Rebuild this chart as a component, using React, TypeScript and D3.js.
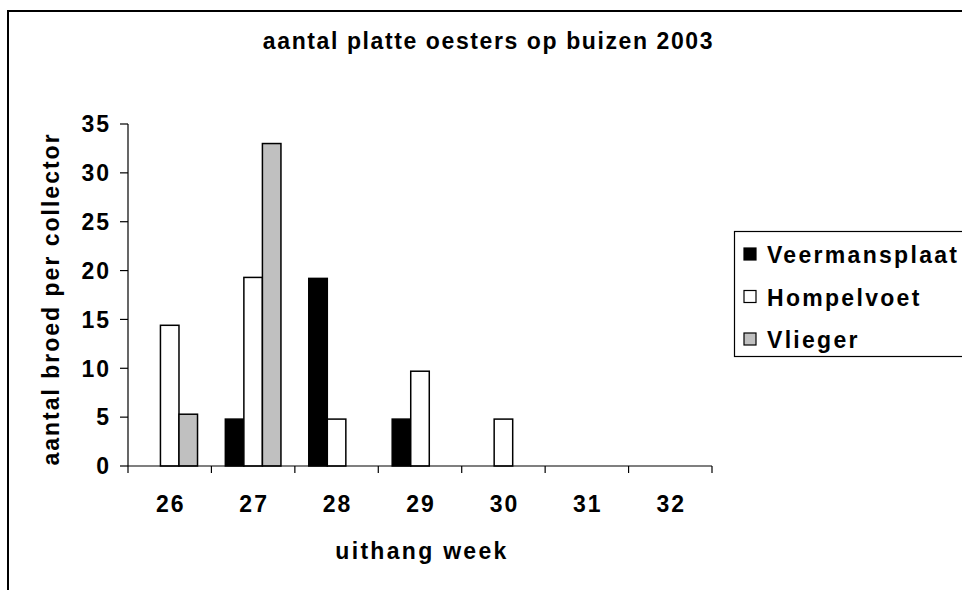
import React from "react";
import * as d3 from "d3";

const weeks = ["26", "27", "28", "29", "30", "31", "32"];
const seriesNames = ["Veermansplaat", "Hompelvoet", "Vlieger"];
const veermansplaat = [0, 4.8, 19.2, 4.8, 0, 0, 0];
const hompelvoet = [14.4, 19.3, 4.8, 9.7, 4.8, 0, 0];
const vlieger = [5.3, 33, 0, 0, 0, 0, 0];
const yTicks = [0, 5, 10, 15, 20, 25, 30, 35];
const seriesValues = [veermansplaat, hompelvoet, vlieger];
const seriesFill = ["#000000", "#ffffff", "#c0c0c0"];

const FONT = "'Liberation Sans', Arial, sans-serif";

export default function App() {
  const W = 962, H = 590;
  const left = 128, right = 712, top = 124, bottom = 466;
  const y = d3.scaleLinear().domain([0, 35]).range([bottom, top]);
  const x0 = d3.scaleBand<string>().domain(weeks).range([left, right]).paddingInner(1 / 3).paddingOuter(1 / 6);
  const x1 = d3.scaleBand<string>().domain(seriesNames).range([0, x0.bandwidth()]).padding(0);
  const step = x0.step();
  const ls = 2;
  const txt = { fontFamily: FONT, fontWeight: 700 as const, fontSize: 23, letterSpacing: ls };

  return (
    <svg width={W} height={H} style={{ position: "absolute", left: 0, top: 0 }}>
      <rect x={0} y={0} width={W} height={H} fill="#fff" />
      <rect x={8} y={11} width={1000} height={700} fill="none" stroke="#000" strokeWidth={2} />
      <text x={487.5 + ls / 2} y={48.5} textAnchor="middle" {...txt} letterSpacing={1.6}>aantal platte oesters op buizen 2003</text>

      {seriesValues.map((vals, si) =>
        vals.map((v, i) =>
          v > 0 ? (
            <rect key={`${si}-${i}`}
              x={(x0(weeks[i]) as number) + (x1(seriesNames[si]) as number)}
              y={y(v)} width={x1.bandwidth()} height={y(0) - y(v)}
              fill={seriesFill[si]} stroke="#000" strokeWidth={1.5} />
          ) : null
        )
      )}

      <line x1={left} x2={left} y1={top} y2={bottom} stroke="#000" strokeWidth={1.2} />
      <line x1={left} x2={right} y1={bottom} y2={bottom} stroke="#000" strokeWidth={1.2} />
      {yTicks.map(t => (
        <g key={t}>
          <line x1={left - 8} x2={left} y1={y(t)} y2={y(t)} stroke="#000" strokeWidth={1.2} />
          <text x={111} y={y(t)} dy="0.36em" textAnchor="end" {...txt}>{t}</text>
        </g>
      ))}
      {weeks.map((w, i) => (
        <line key={"t" + w} x1={left + i * step} x2={left + i * step} y1={bottom} y2={bottom + 7} stroke="#000" strokeWidth={1.2} />
      ))}
      <line x1={right} x2={right} y1={bottom} y2={bottom + 7} stroke="#000" strokeWidth={1.2} />
      {weeks.map(w => (
        <text key={"l" + w} x={(x0(w) as number) + x0.bandwidth() / 2 + ls / 2} y={511.5} textAnchor="middle" {...txt}>{w}</text>
      ))}
      <text x={421 + ls / 2} y={558.5} textAnchor="middle" {...txt} letterSpacing={2.3}>uithang week</text>
      <text transform={`translate(59,${298 + ls / 2}) rotate(-90)`} textAnchor="middle" {...txt}>aantal broed per collector</text>

      <rect x={734.5} y={231.5} width={240} height={125} fill="#fff" stroke="#000" strokeWidth={1.2} />
      {seriesNames.map((s, i) => (
        <g key={s}>
          <rect x={744} y={248 + i * 42.5} width={12} height={12} fill={seriesFill[i]} stroke="#000" strokeWidth={1.2} />
          <text x={767} y={263 + i * 42.5} {...txt} letterSpacing={2.3}>{s}</text>
        </g>
      ))}
    </svg>
  );
}
